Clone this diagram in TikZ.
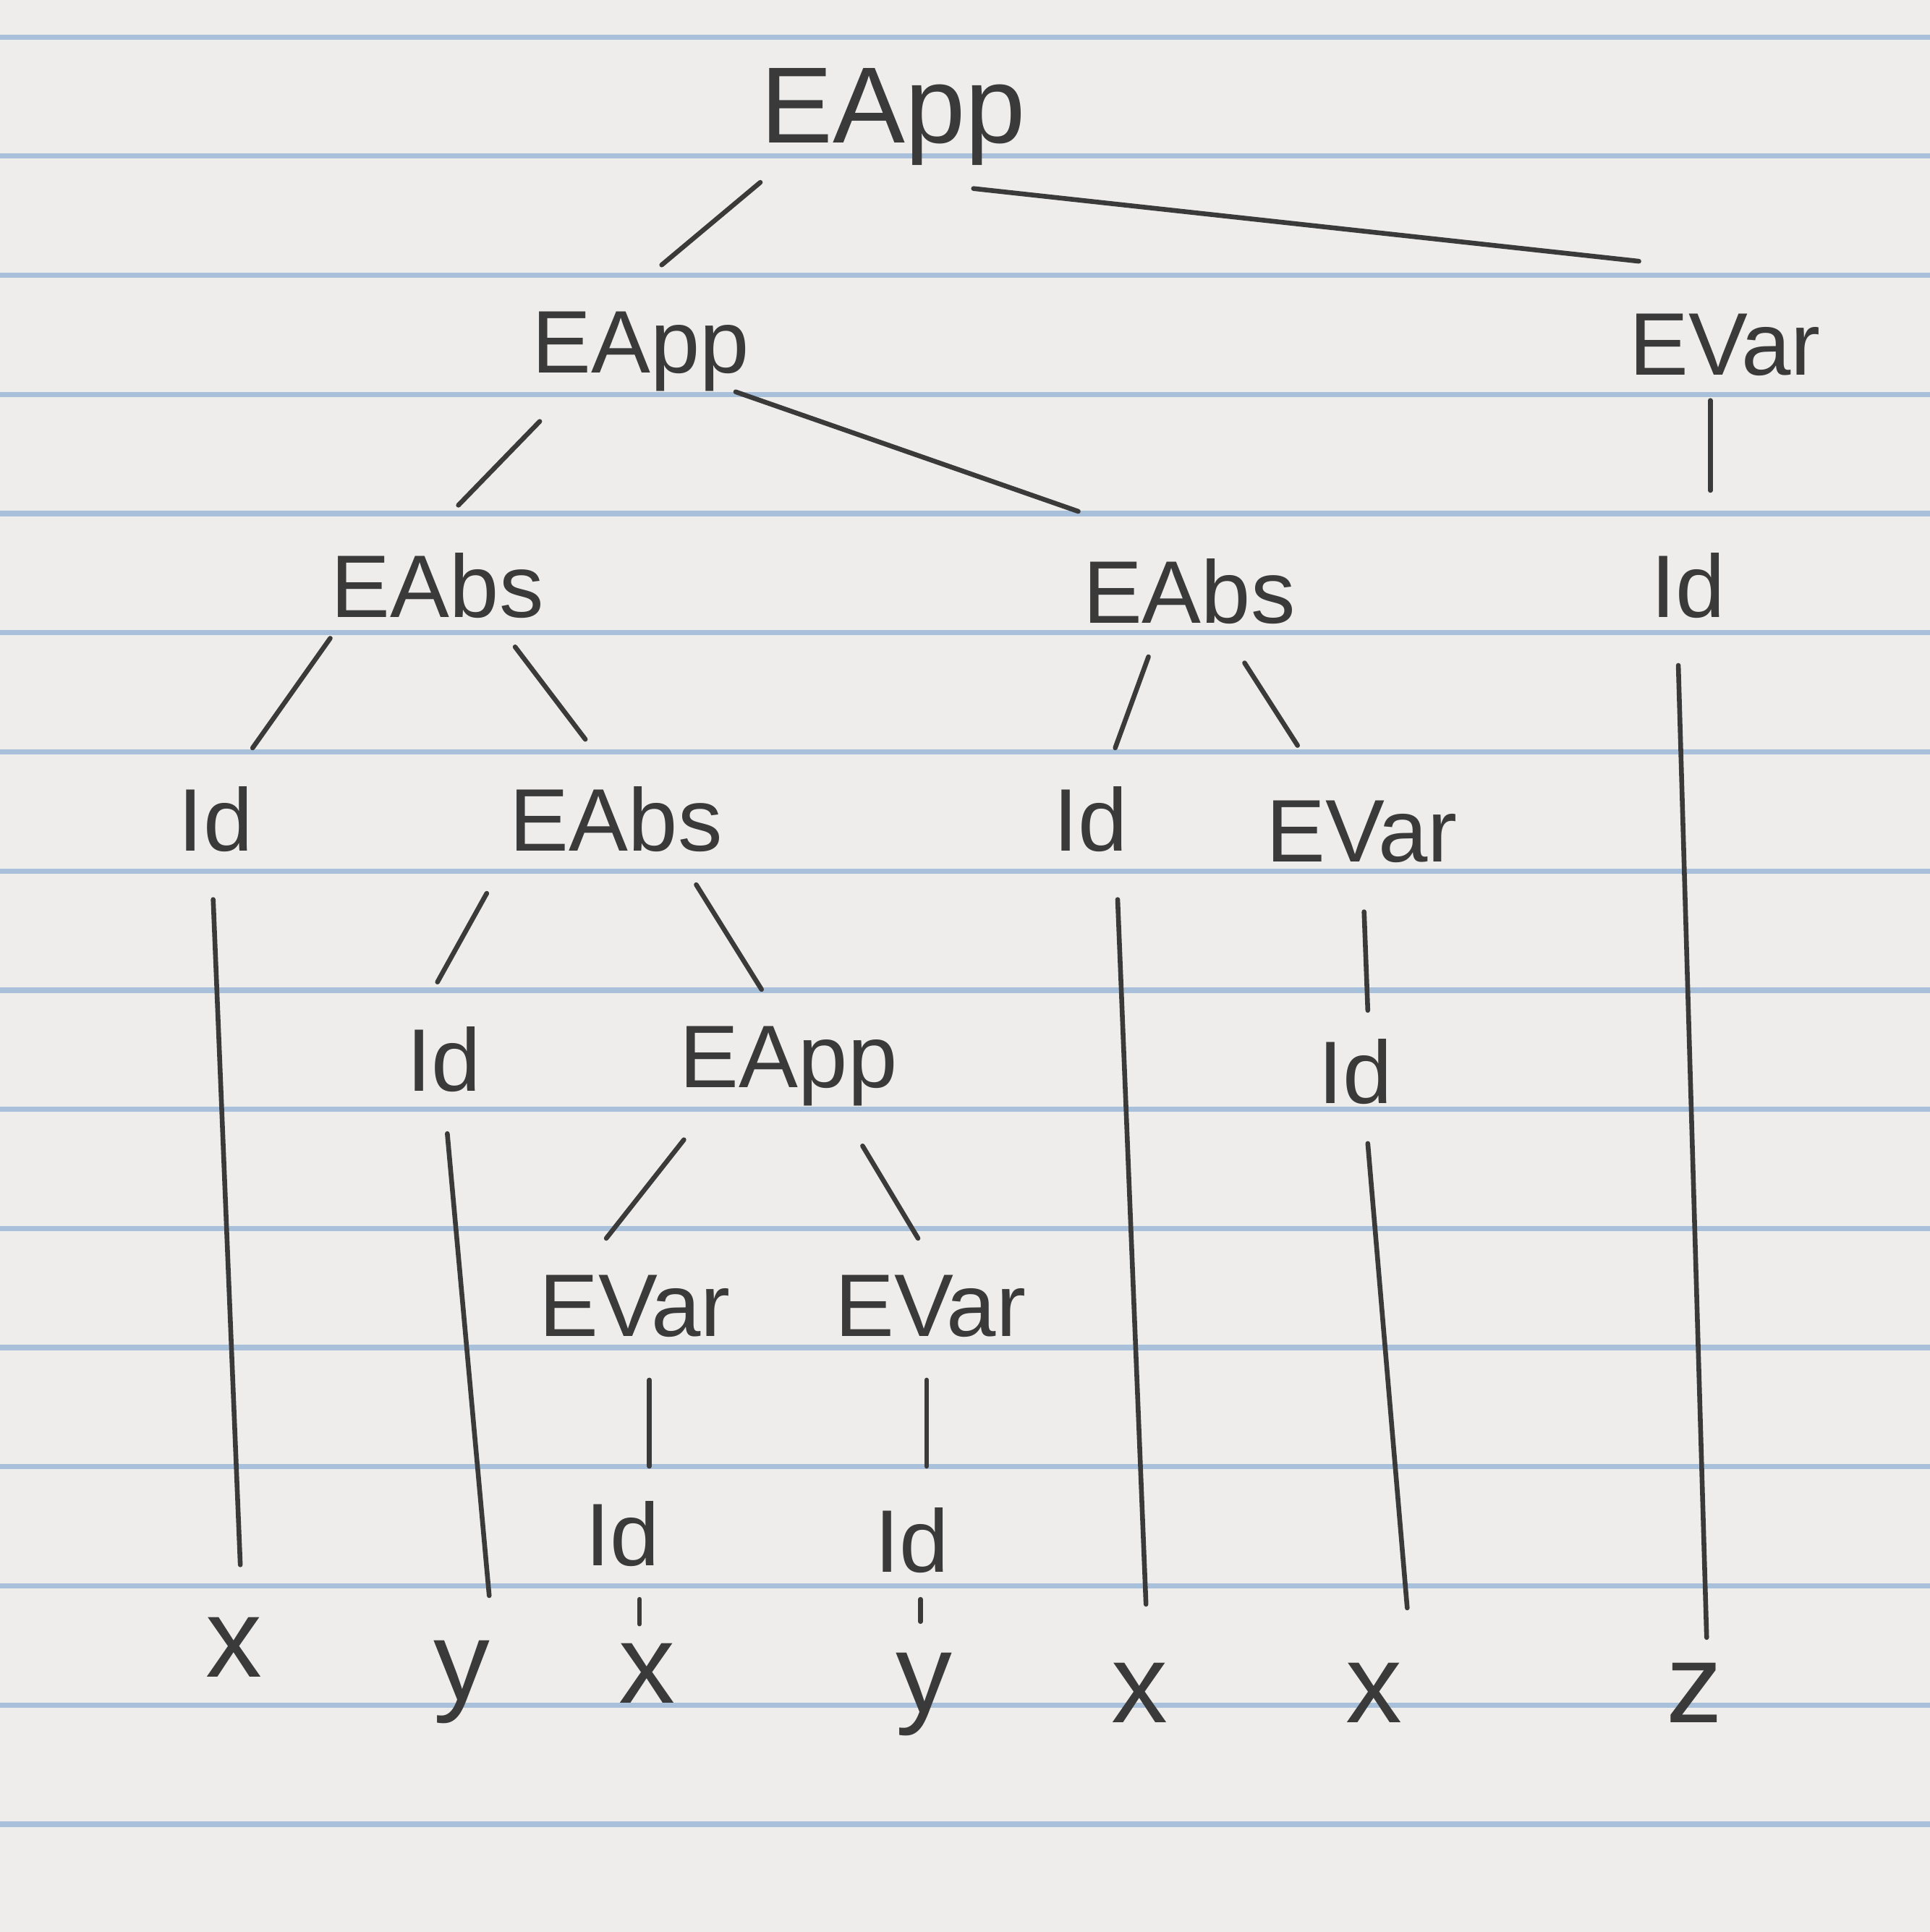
\documentclass[tikz,border=0pt]{standalone}
\usepackage{fontspec}
\setmainfont{Liberation Sans}
\definecolor{pencil}{HTML}{3A3A3A}
\definecolor{paperbg}{HTML}{EEEDEB}
\definecolor{ruled}{HTML}{A9C0DA}
\begin{document}
\begin{tikzpicture}[x=0.01cm,y=-0.01cm,
  lbl/.style={font=\fontsize{20.5}{24}\selectfont, text=pencil, inner sep=0pt},
  big/.style={font=\fontsize{25}{30}\selectfont, text=pencil, inner sep=0pt},
  leaf/.style={font=\fontsize{26}{30}\selectfont, text=pencil, inner sep=0pt},
  edge/.style={draw=pencil, line width=1.1pt, line cap=round},
  paperline/.style={draw=ruled, line width=1.2pt}]
\fill[paperbg] (0,0) rectangle (1566,1568);
\useasboundingbox (0,0) rectangle (1566,1568);
\foreach \k in {0,...,15} \draw[paperline] (0,30+96.7*\k) -- (1566,30+96.7*\k);
% nodes
\node[big] (root) at (725,95) {EApp};
\node[lbl] (n2) at (520,285) {EApp};
\node[lbl] (evR) at (1400,280) {EVar};
\node[lbl] (idR) at (1370,475) {Id};
\node[lbl] (absL) at (355,475) {EAbs};
\node[lbl] (absM) at (965,480) {EAbs};
\node[lbl] (id1) at (175,665) {Id};
\node[lbl] (abs2) at (500,665) {EAbs};
\node[lbl] (id3) at (885,665) {Id};
\node[lbl] (ev3) at (1105,675) {EVar};
\node[lbl] (id2) at (360,860) {Id};
\node[lbl] (app3) at (640,865) {EApp};
\node[lbl] (id4) at (1100,870) {Id};
\node[lbl] (ev4) at (515,1060) {EVar};
\node[lbl] (ev5) at (755,1060) {EVar};
\node[lbl] (id5) at (505,1245) {Id};
\node[lbl] (id6) at (740,1250) {Id};
\node[leaf] (x1) at (190,1337) {x};
\node[leaf] (y2) at (375,1365) {y};
\node[leaf] (x3) at (525,1358) {x};
\node[leaf] (y4) at (750,1375) {y};
\node[leaf] (x5) at (925,1374) {x};
\node[leaf] (x6) at (1115,1374) {x};
\node[leaf] (z7) at (1375,1374) {z};
% edges
\draw[edge] ([shift={(-108,53)}]root.center) -- ([shift={(17,-70)}]n2.center);
\draw[edge] ([shift={(65,58)}]root.center) -- ([shift={(-70,-68)}]evR.center);
\draw[edge] ([shift={(-82,57)}]n2.center) -- ([shift={(17,-65)}]absL.center);
\draw[edge] ([shift={(77,33)}]n2.center) -- ([shift={(-90,-65)}]absM.center);
\draw[edge] ([shift={(-12,45)}]evR.center) -- ([shift={(18,-77)}]idR.center);
\draw[edge] ([shift={(-8,65)}]idR.center) -- ([shift={(10,-45)}]z7.center);
\draw[edge] ([shift={(-87,43)}]absL.center) -- ([shift={(30,-58)}]id1.center);
\draw[edge] ([shift={(63,50)}]absL.center) -- ([shift={(-25,-65)}]abs2.center);
\draw[edge] ([shift={(-33,53)}]absM.center) -- ([shift={(20,-58)}]id3.center);
\draw[edge] ([shift={(45,58)}]absM.center) -- ([shift={(-52,-70)}]ev3.center);
\draw[edge] ([shift={(-2,65)}]id1.center) -- ([shift={(5,-67)}]x1.center);
\draw[edge] ([shift={(-105,60)}]abs2.center) -- ([shift={(-5,-63)}]id2.center);
\draw[edge] ([shift={(65,53)}]abs2.center) -- ([shift={(-22,-62)}]app3.center);
\draw[edge] ([shift={(22,65)}]id3.center) -- ([shift={(5,-72)}]x5.center);
\draw[edge] ([shift={(2,65)}]ev3.center) -- ([shift={(10,-50)}]id4.center);
\draw[edge] ([shift={(3,60)}]id2.center) -- ([shift={(22,-70)}]y2.center);
\draw[edge] ([shift={(-85,60)}]app3.center) -- ([shift={(-23,-55)}]ev4.center);
\draw[edge] ([shift={(60,65)}]app3.center) -- ([shift={(-10,-55)}]ev5.center);
\draw[edge] ([shift={(10,58)}]id4.center) -- ([shift={(27,-69)}]x6.center);
\draw[edge] ([shift={(12,60)}]ev4.center) -- ([shift={(22,-55)}]id5.center);
\draw[edge] ([shift={(-3,60)}]ev5.center) -- ([shift={(12,-60)}]id6.center);
\draw[edge] ([shift={(14,53)}]id5.center) -- ([shift={(-6,-40)}]x3.center);
\draw[edge] ([shift={(7,48)}]id6.center) -- ([shift={(-3,-59)}]y4.center);
\end{tikzpicture}
\end{document}
